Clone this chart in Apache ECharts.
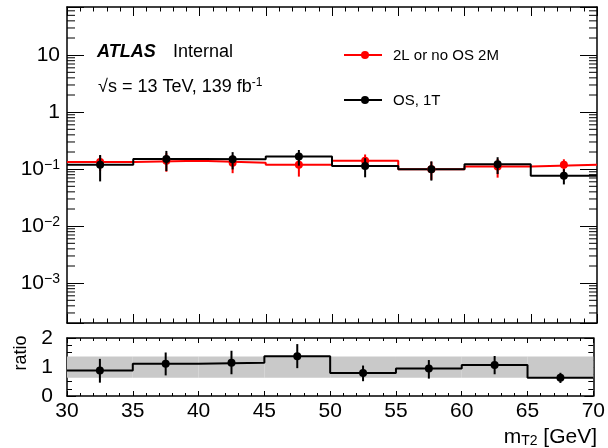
<!DOCTYPE html>
<html><head><meta charset="utf-8">
<script src="https://cdn.jsdelivr.net/npm/echarts@6/dist/echarts.min.js"></script>
<style>html,body{margin:0;padding:0;background:#fff}#c{width:608px;height:448px}</style>
</head><body><div id="c"></div>
<script>
// ---- data ----
const binEdges   = [30, 35, 40, 45, 50, 55, 60, 65, 70];
const binCenters = [32.5, 37.5, 42.5, 47.5, 52.5, 57.5, 62.5, 67.5];
const twoLValues = [0.133, 0.140, 0.130, 0.119, 0.141, 0.100, 0.111, 0.119];
const twoLErrors = [0.040, 0.050, 0.045, 0.045, 0.040, 0.035, 0.040, 0.030];
const osValues   = [0.119, 0.151, 0.149, 0.166, 0.114, 0.100, 0.122, 0.077];
const osErrors   = [0.058, 0.058, 0.050, 0.051, 0.042, 0.037, 0.040, 0.023];
const ratioValues = [0.88, 1.11, 1.15, 1.37, 0.79, 0.95, 1.07, 0.63];
const ratioLow    = [0.46, 0.71, 0.75, 0.96, 0.51, 0.60, 0.75, 0.45];
const ratioHigh   = [1.28, 1.50, 1.56, 1.79, 1.05, 1.24, 1.38, 0.80];
const bandLow     = [0.63, 0.63, 0.63, 0.63, 0.63, 0.63, 0.63, 0.63];
const bandHigh    = [1.36, 1.36, 1.36, 1.36, 1.36, 1.36, 1.36, 1.36];
const xTicks = [30, 35, 40, 45, 50, 55, 60, 65, 70];
const yDecadeLabels = ['10', '1', '10^-1', '10^-2', '10^-3'];
const legendNames = ['2L or no OS 2M', 'OS, 1T'];

const FONT = '"Liberation Sans", Arial, sans-serif';
const RED = '#ff0000', BLACK = '#000000';
const yMin = 2e-4, yMax = 70;

const chart = echarts.init(document.getElementById('c'), null, {renderer: 'canvas'});

function stepData(vals) {
  return binEdges.map((e, i) => [e, vals[Math.min(i, vals.length - 1)]]);
}
function errRender(color) {
  return function (params, api) {
    const x = api.value(0), v = api.value(1), lo = api.value(2), hi = api.value(3);
    const c = api.coord([x, v]), t = api.coord([x, hi]), b = api.coord([x, lo]);
    return {type: 'group', children: [
      {type: 'line', shape: {x1: c[0], y1: t[1], x2: c[0], y2: b[1]}, style: {stroke: color, lineWidth: 2}},
      {type: 'circle', shape: {cx: c[0], cy: c[1], r: 4}, style: {fill: color}}
    ]};
  };
}
const minorVals = [];
for (let n = -4; n <= 1; n++) for (let k = 2; k <= 9; k++) {
  const v = k * Math.pow(10, n);
  if (v > yMin * 1.001 && v < yMax) minorVals.push([30, v]);
}

const axisLineStyle = {show: true, onZero: false, lineStyle: {color: BLACK, width: 1.5}};
function xAx(grid, pos, labels, major, minor) {
  return {
    gridIndex: grid, type: 'value', position: pos, min: 30, max: 70, interval: 5,
    axisLine: axisLineStyle,
    axisTick: {show: true, inside: true, length: major, lineStyle: {color: BLACK, width: 1}},
    minorTick: {show: true, splitNumber: 5, length: minor, lineStyle: {color: BLACK, width: 1}},
    splitLine: {show: false}, minorSplitLine: {show: false},
    axisLabel: labels ? {show: true, fontSize: 21, fontFamily: FONT, color: BLACK, margin: 5,
      formatter: v => xTicks.indexOf(v) >= 0 ? String(v) : ''} : {show: false}
  };
}
function decadeLabel(v) {
  const n = Math.log10(v), r = Math.round(n);
  if (Math.abs(n - r) > 1e-6) return '';
  const idx = 1 - r;
  const txt = yDecadeLabels[idx];
  if (txt === undefined) return '';
  if (txt.indexOf('^') < 0) return txt;
  const parts = txt.split('^');
  return '{b|' + parts[0] + '}{s|' + parts[1].replace('-', '\u2212') + '}';
}

const option = {
  animation: false,
  backgroundColor: '#fff',
  textStyle: {fontFamily: FONT},
  grid: [
    {left: 67, top: 7, width: 530, height: 316},
    {left: 67, top: 338, width: 530, height: 58}
  ],
  xAxis: [
    xAx(0, 'bottom', false, 9, 4.5),
    xAx(0, 'top', false, 9, 4.5),
    xAx(1, 'bottom', true, 5, 3),
    xAx(1, 'top', false, 5, 3)
  ],
  yAxis: [
    {gridIndex: 0, type: 'log', logBase: 10, min: yMin, max: yMax, position: 'left',
      axisLine: axisLineStyle,
      axisTick: {show: true, inside: true, length: 17, lineStyle: {color: BLACK}},
      splitLine: {show: false},
      axisLabel: {show: true, margin: 7, fontSize: 21, fontFamily: FONT, color: BLACK,
        formatter: decadeLabel,
        rich: {
          b: {fontSize: 21, fontFamily: FONT, color: BLACK, verticalAlign: 'bottom', lineHeight: 22},
          s: {fontSize: 14, fontFamily: FONT, color: BLACK, verticalAlign: 'top', lineHeight: 14, padding: [0, 0, 10, 0]}
        }}},
    {gridIndex: 0, type: 'log', logBase: 10, min: yMin, max: yMax, position: 'right',
      axisLine: axisLineStyle,
      axisTick: {show: true, inside: true, length: 17, lineStyle: {color: BLACK}},
      splitLine: {show: false}, axisLabel: {show: false}},
    {gridIndex: 1, type: 'value', min: 0, max: 2, interval: 1, position: 'left',
      axisLine: axisLineStyle,
      axisTick: {show: true, inside: true, length: 9, lineStyle: {color: BLACK}},
      minorTick: {show: true, splitNumber: 4, length: 5, lineStyle: {color: BLACK}},
      splitLine: {show: false},
      axisLabel: {show: true, margin: 14, fontSize: 21, fontFamily: FONT, color: BLACK}},
    {gridIndex: 1, type: 'value', min: 0, max: 2, interval: 1, position: 'right',
      axisLine: axisLineStyle,
      axisTick: {show: true, inside: true, length: 9, lineStyle: {color: BLACK}},
      minorTick: {show: true, splitNumber: 4, length: 5, lineStyle: {color: BLACK}},
      splitLine: {show: false}, axisLabel: {show: false}}
  ],
  series: [
    {type: 'custom', xAxisIndex: 0, yAxisIndex: 0, silent: true, z: 1,
      data: minorVals, encode: {x: 0, y: 1},
      renderItem: function (params, api) {
        const v = api.value(1);
        const l = api.coord([30, v]), r = api.coord([70, v]);
        return {type: 'group', children: [
          {type: 'line', shape: {x1: l[0], y1: l[1], x2: l[0] + 8, y2: l[1]}, style: {stroke: BLACK, lineWidth: 1}},
          {type: 'line', shape: {x1: r[0] - 8, y1: r[1], x2: r[0], y2: r[1]}, style: {stroke: BLACK, lineWidth: 1}}
        ]};
      }},
    {name: legendNames[0], type: 'line', xAxisIndex: 0, yAxisIndex: 0, step: 'end', showSymbol: false,
      symbol: 'none', lineStyle: {color: RED, width: 2}, data: stepData(twoLValues), z: 2},
    {name: legendNames[1], type: 'line', xAxisIndex: 0, yAxisIndex: 0, step: 'end', showSymbol: false,
      symbol: 'none', lineStyle: {color: BLACK, width: 2}, data: stepData(osValues), z: 3},
    {type: 'custom', xAxisIndex: 0, yAxisIndex: 0, z: 4, encode: {x: 0, y: 1},
      data: binCenters.map((x, i) => [x, twoLValues[i], twoLValues[i] - twoLErrors[i], twoLValues[i] + twoLErrors[i]]),
      renderItem: errRender(RED)},
    {type: 'custom', xAxisIndex: 0, yAxisIndex: 0, z: 5, encode: {x: 0, y: 1},
      data: binCenters.map((x, i) => [x, osValues[i], osValues[i] - osErrors[i], osValues[i] + osErrors[i]]),
      renderItem: errRender(BLACK)},
    {type: 'custom', xAxisIndex: 2, yAxisIndex: 2, z: 1, encode: {x: [0, 1], y: [2, 3]},
      data: binCenters.map((x, i) => [binEdges[i], binEdges[i + 1], bandLow[i], bandHigh[i]]),
      renderItem: function (params, api) {
        const p1 = api.coord([api.value(0), api.value(3)]);
        const p2 = api.coord([api.value(1), api.value(2)]);
        return {type: 'rect', shape: {x: p1[0], y: p1[1], width: p2[0] - p1[0], height: p2[1] - p1[1]},
          style: {fill: '#c9c9c9'}};
      }},
    {type: 'line', xAxisIndex: 2, yAxisIndex: 2, step: 'end', showSymbol: false, symbol: 'none',
      lineStyle: {color: BLACK, width: 2}, data: stepData(ratioValues), z: 3},
    {type: 'custom', xAxisIndex: 2, yAxisIndex: 2, z: 4, encode: {x: 0, y: 1},
      data: binCenters.map((x, i) => [x, ratioValues[i], ratioLow[i], ratioHigh[i]]),
      renderItem: errRender(BLACK)}
  ],
  graphic: [
    {type: 'text', x: 97, y: 52, style: {text: 'ATLAS', font: 'italic bold 18px ' + FONT, fill: BLACK, align: 'left', verticalAlign: 'middle'}},
    {type: 'text', x: 173, y: 52, style: {text: 'Internal', font: '18px ' + FONT, fill: BLACK, align: 'left', verticalAlign: 'middle'}},
    {type: 'text', x: 98, y: 87, style: {text: '\u221As = 13 TeV, 139 fb{s|-1}', font: '18px ' + FONT, fill: BLACK,
      align: 'left', verticalAlign: 'middle',
      rich: {s: {fontSize: 12, fontFamily: FONT, fill: BLACK, verticalAlign: 'top', padding: [0, 0, 8, 0]}}}},
    {type: 'line', shape: {x1: 344, y1: 55, x2: 382, y2: 55}, style: {stroke: RED, lineWidth: 2}},
    {type: 'circle', shape: {cx: 365, cy: 55, r: 4}, style: {fill: RED}},
    {type: 'text', x: 393, y: 56, style: {text: legendNames[0], font: '15px ' + FONT, fill: BLACK, align: 'left', verticalAlign: 'middle'}},
    {type: 'line', shape: {x1: 344, y1: 100, x2: 382, y2: 100}, style: {stroke: BLACK, lineWidth: 2}},
    {type: 'circle', shape: {cx: 365, cy: 100, r: 4}, style: {fill: BLACK}},
    {type: 'text', x: 393, y: 101, style: {text: legendNames[1], font: '15px ' + FONT, fill: BLACK, align: 'left', verticalAlign: 'middle'}},
    {type: 'text', x: 21, y: 353, rotation: Math.PI / 2, style: {text: 'ratio', font: '18px ' + FONT, fill: BLACK, align: 'center', verticalAlign: 'middle'}},
    {type: 'text', x: 597, y: 437, style: {text: 'm{s|T2} [GeV]', font: '21px ' + FONT, fill: BLACK, align: 'right', verticalAlign: 'middle',
      rich: {s: {fontSize: 14, fontFamily: FONT, fill: BLACK, verticalAlign: 'bottom', padding: [8, 0, 0, 0]}}}}
  ]
};
chart.setOption(option);
</script>
</body></html>
